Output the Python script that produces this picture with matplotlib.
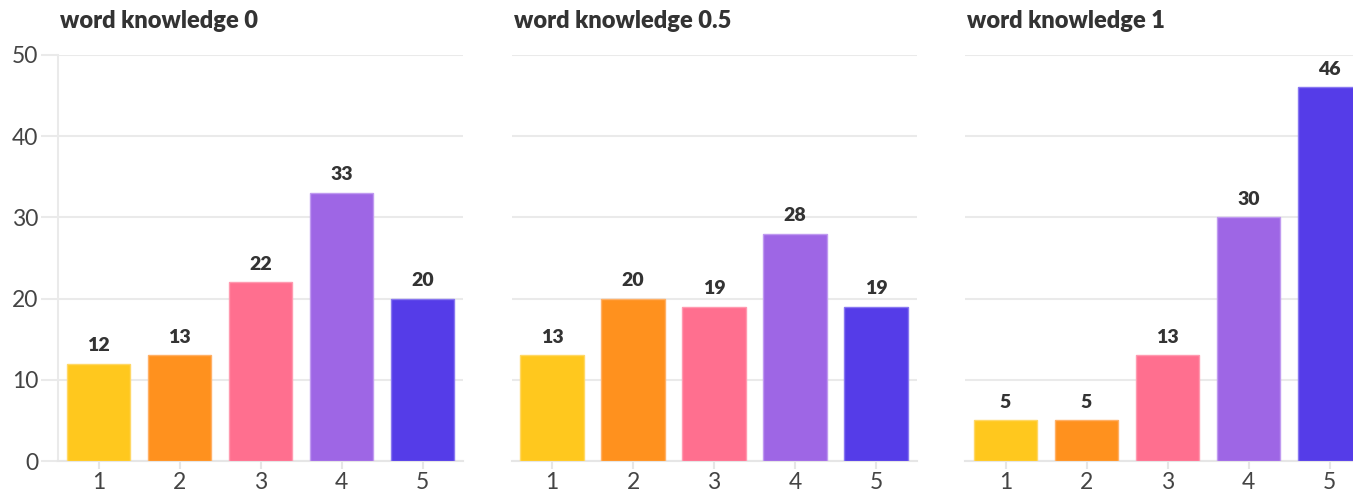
import matplotlib
matplotlib.use('Agg')
import matplotlib.pyplot as plt

# data
categories = [1, 2, 3, 4, 5]
panel_titles = ['word knowledge 0', 'word knowledge 0.5', 'word knowledge 1']
counts_wk0 = [12, 13, 22, 33, 20]
counts_wk05 = [13, 20, 19, 28, 19]
counts_wk1 = [5, 5, 13, 30, 46]
y_ticks = [0, 10, 20, 30, 40, 50]

colors = ['#FFC81E', '#FF911E', '#FF6F8F', '#9E66E5', '#553CE8']
edges = ['#FFD866', '#FFB066', '#FF9AB0', '#C09AF0', '#8877F0']

plt.rcParams['font.family'] = ['Lato', 'DejaVu Sans']

W, H = 1353, 499
fig = plt.figure(figsize=(W / 100, H / 100), dpi=100)

# axes placement in pixels (third panel runs off the right edge, as in the original)
lefts = [58, 511.5, 965]
ax_w = 405
y0, y50 = 461, 55

for i, (title, vals) in enumerate(zip(panel_titles, [counts_wk0, counts_wk05, counts_wk1])):
    ax = fig.add_axes([lefts[i] / W, (H - y0) / H, ax_w / W, (y0 - y50) / H])
    ax.bar(categories, vals, width=0.79, color=colors, edgecolor=edges,
           linewidth=1, zorder=3)
    for x, v in zip(categories, vals):
        ax.annotate(str(v), (x, v), xytext=(0, 7), textcoords='offset points',
                    ha='center', va='bottom', fontsize=14, fontweight='heavy',
                    color='#333333', zorder=4)
    ax.set_xlim(0.5, 5.5)
    ax.set_ylim(0, 50)
    ax.set_yticks(y_ticks)
    ax.set_xticks(categories)
    ax.grid(axis='y', color='#EAEAEA', linewidth=1.5, zorder=0)
    for s in ['top', 'right']:
        ax.spines[s].set_visible(False)
    ax.spines['bottom'].set_color('#E6E6E6')
    ax.spines['bottom'].set_linewidth(1.5)
    ax.tick_params(axis='x', length=6, width=1.5, color='#E6E6E6',
                   labelsize=16.5, labelcolor='#444444', pad=2)
    if i == 0:
        ax.spines['left'].set_color('#EAEAEA')
        ax.spines['left'].set_linewidth(1.5)
        ax.tick_params(axis='y', length=12, width=1.5, color='#EAEAEA',
                       labelsize=16.5, labelcolor='#444444', pad=2)
    else:
        ax.spines['left'].set_visible(False)
        ax.tick_params(axis='y', length=0, labelleft=False)
    ax.text(2 / ax_w, 1 + 23 / 406, title, transform=ax.transAxes, fontsize=17,
            fontweight='heavy', color='#333333', ha='left', va='bottom')

fig.savefig('out.png', dpi=100)
